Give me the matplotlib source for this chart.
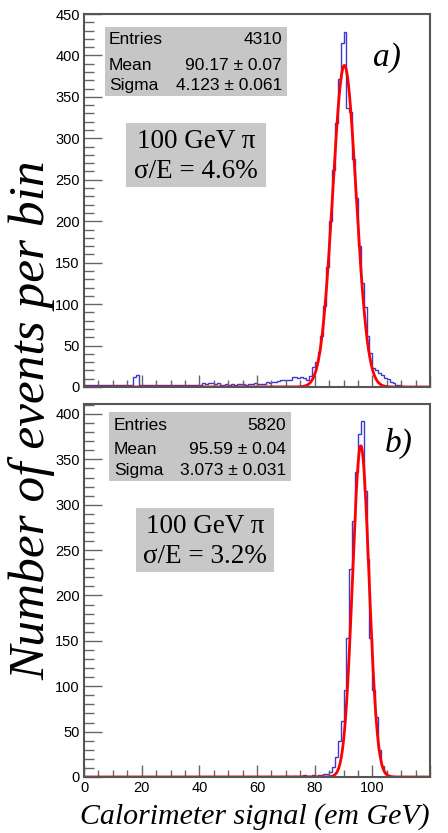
import numpy as np
import matplotlib
matplotlib.use('Agg')
import matplotlib.pyplot as plt
from matplotlib.patches import Rectangle

# 图像尺寸（像素）
W, H = 448, 833

# 直方图：0-120 GeV，每个bin 1 GeV
bin_edges = np.arange(0, 121, 1)

counts_a = [2, 3, 2, 2, 3, 2, 2, 3, 2, 2,
            2, 3, 2, 2, 3, 2, 2, 12, 14, 3,
            2, 2, 3, 2, 2, 3, 2, 2, 3, 2,
            2, 3, 2, 2, 3, 2, 2, 3, 2, 2,
            3, 5, 4, 5, 5, 4, 5, 3, 3, 4,
            3, 4, 3, 4, 4, 4, 3, 4, 4, 5,
            4, 4, 4, 6, 5, 6, 6, 7, 8, 8,
            8, 9, 12, 12, 11, 12, 11, 8, 13, 24,
            30, 42, 62, 98, 145, 200, 262, 318, 372, 415,
            428, 337, 332, 275, 228, 170, 125, 96, 62, 41,
            23, 20, 17, 15, 11, 10, 6, 5, 3, 2,
            1, 0, 0, 0, 0, 0, 0, 0, 0, 0]

counts_b = [0] * 70 + [1, 0, 1, 1, 0, 1, 2, 1, 1, 2,
                       1, 2, 2, 3, 3, 5, 11, 22, 40, 62,
                       96, 153, 229, 282, 336, 378, 392, 315, 240, 153,
                       96, 66, 30, 12, 5, 2, 1, 0, 0, 0,
                       0, 0, 0, 0, 0, 0, 0, 0, 0, 0]

# 高斯拟合参数（振幅、均值、sigma）
fit_a = (388, 90.3, 4.04)
fit_b = (365, 96.0, 2.85)

x_ticklabels = ['0', '20', '40', '60', '80', '100', '']

stats_a = [('Entries', '4310'), ('Mean', '90.17 ± 0.07'), ('Sigma', '4.123 ± 0.061')]
stats_b = [('Entries', '5820'), ('Mean', '95.59 ± 0.04'), ('Sigma', '3.073 ± 0.031')]
note_a = ['100 GeV π', 'σ/E = 4.6%']
note_b = ['100 GeV π', 'σ/E = 3.2%']


def fx(x):
    return x / W


def fy(y):
    return 1 - y / H


def gauss(x, amp, mu, sig):
    return amp * np.exp(-0.5 * ((x - mu) / sig) ** 2)


fig = plt.figure(figsize=(W / 100, H / 100), dpi=100)
ax_a = fig.add_axes([fx(84), fy(387), fx(430) - fx(84), fy(14) - fy(387)])
ax_b = fig.add_axes([fx(84), fy(777), fx(430) - fx(84), fy(404) - fy(777)])

xf = np.linspace(0, 120, 1200)
sans = 'Liberation Sans'
serif = 'Liberation Serif'

for ax, counts, fit, ymax in [(ax_a, counts_a, fit_a, 450), (ax_b, counts_b, fit_b, 411)]:
    ax.stairs(counts, bin_edges, color='#3a3ad0', lw=1.0)
    ax.plot(xf, gauss(xf, *fit), color='red', lw=2.0)
    ax.set_xlim(0, 120)
    ax.set_ylim(0, ymax)
    ax.set_xticks(np.arange(0, 121, 20))
    ax.set_xticks(np.arange(0, 121, 5), minor=True)
    ax.set_xticklabels(x_ticklabels)
    ax.set_yticks(np.arange(0, ymax + 1, 50))
    ax.set_yticks(np.arange(0, ymax + 1, 10), minor=True)
    ax.tick_params(axis='y', which='major', direction='in', length=13, width=1.0, color='#666666', pad=3)
    ax.tick_params(axis='y', which='minor', direction='in', length=7, width=1.0, color='#666666')
    ax.tick_params(axis='x', which='major', direction='in', length=9, width=1.0, color='#666666', pad=3)
    ax.tick_params(axis='x', which='minor', direction='in', length=5, width=1.0, color='#666666')
    for lab in ax.get_xticklabels() + ax.get_yticklabels():
        lab.set_family(sans)
        lab.set_fontsize(10.5)
    for s in ax.spines.values():
        s.set_color('#555555')
        s.set_linewidth(1.5)

ax_a.set_xticklabels([])


# 统计框
def stat_box(x0, y0, x1, y1, rows, baselines, xl, xr):
    fig.patches.append(Rectangle((fx(x0), fy(y1)), fx(x1) - fx(x0), fy(y0) - fy(y1),
                                 transform=fig.transFigure, facecolor='#c6c6c6', edgecolor='none', zorder=5))
    for (k, v), b in zip(rows, baselines):
        fig.text(fx(xl), fy(b), k, family=sans, fontsize=12.5, ha='left', va='baseline', zorder=6)
        fig.text(fx(xr), fy(b), v, family=sans, fontsize=12.5, ha='right', va='baseline', zorder=6)


def note_box(x0, y0, x1, y1, lines, baselines):
    fig.patches.append(Rectangle((fx(x0), fy(y1)), fx(x1) - fx(x0), fy(y0) - fy(y1),
                                 transform=fig.transFigure, facecolor='#c8c8c8', edgecolor='none', zorder=5))
    for t, b in zip(lines, baselines):
        fig.text(fx((x0 + x1) / 2), fy(b), t, family=serif, fontsize=19.5, ha='center', va='baseline', zorder=6)


stat_box(105, 27, 287, 96, stats_a, [44, 70, 90], 109, 282)
stat_box(109, 412, 291, 481, stats_b, [430, 454, 475], 114, 286)
note_box(126, 123, 266, 187, note_a, [148, 178])
note_box(136, 508, 274, 572, note_b, [533, 563])

fig.text(fx(373), fy(66), 'a)', family=serif, style='italic', fontsize=24, ha='left', va='baseline')
fig.text(fx(385), fy(452), 'b)', family=serif, style='italic', fontsize=24, ha='left', va='baseline')

fig.text(fx(255), fy(824), 'Calorimeter signal (em GeV)', family=serif, style='italic',
         fontsize=21.5, ha='center', va='baseline')
fig.text(fx(32), fy(420), 'Number of events per bin', family=serif, style='italic',
         fontsize=37, rotation=90, ha='center', va='center')

fig.savefig('out.png', dpi=100)
